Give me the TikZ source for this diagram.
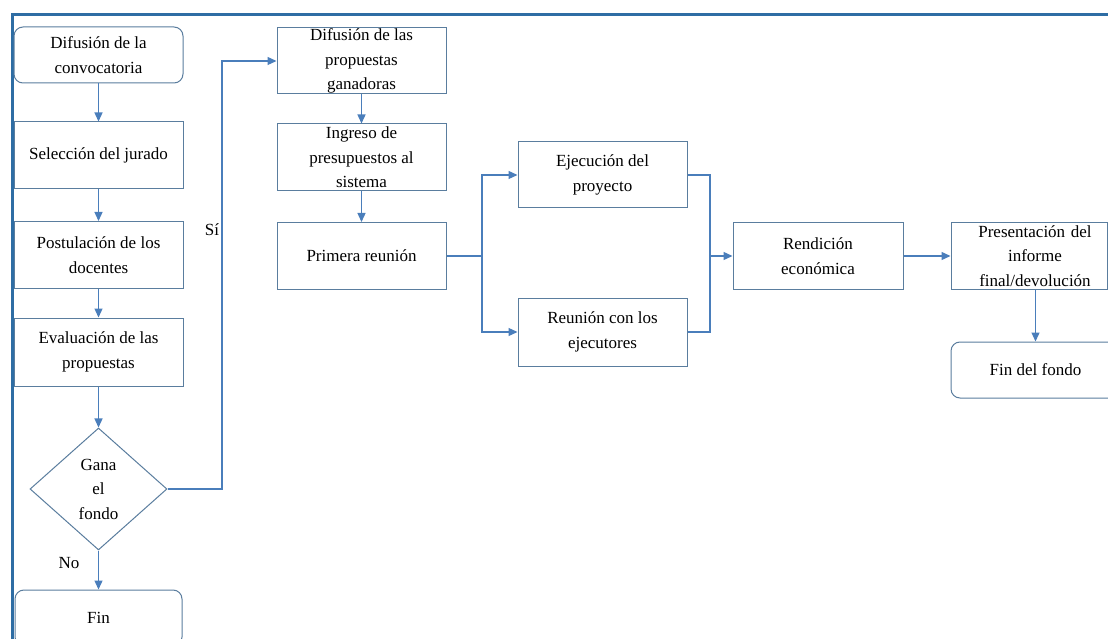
\documentclass[tikz,border=0pt]{standalone}
\usepackage{fontspec}
\setmainfont{Liberation Serif}
\usetikzlibrary{shapes.geometric, arrows.meta}

\definecolor{framecol}{HTML}{2E6DA4}
\definecolor{boxcol}{HTML}{5A7D9E}
\definecolor{linecol}{HTML}{4A7EBB}

\begin{document}
\begin{tikzpicture}[x=1pt,y=-1pt,->,>={Triangle[length=9pt,width=8pt]},
                    every edge/.style={draw=linecol,line width=1.3pt},
                    main node/.style={rectangle,draw=boxcol,line width=1pt,fill=white,align=center,
                                      minimum width=169pt,minimum height=67pt,inner sep=0pt,
                                      font=\fontsize{17}{24.5}\selectfont},
                    round node/.style={main node,rounded corners=9pt},
                    test node/.style={main node,diamond,minimum width=137pt,minimum height=122pt},
                    lbl/.style={font=\fontsize{17}{24.5}\selectfont}]

  \useasboundingbox (0,0) rectangle (1108,639);
  \clip (0,0) rectangle (1108,639);
  \draw[-,framecol,line width=3pt] (12.5,14.5) rectangle (1130,670);

  % left column
  \node[round node, minimum height=56pt] (1) at (98.5,55) {Difusión de la\\convocatoria};
  \node[main node] (2) at (98.5,155.5) {Selección del jurado};
  \node[main node] (3) at (98.5,255) {Postulación de los\\docentes};
  \node[main node, minimum height=68pt] (4) at (98.5,352) {Evaluación de las\\propuestas};
  \node[test node] (5) at (98.5,489) {Gana\\el\\fondo};
  \node[round node, minimum width=167pt, minimum height=56pt] (6) at (98.5,618) {Fin};

  % second column
  \node[main node, minimum height=66pt] (7) at (361.5,61) {Difusión de las\\propuestas\\ganadoras};
  \node[main node] (8) at (361.5,157.5) {Ingreso de\\presupuestos al\\sistema};
  \node[main node] (9) at (361.5,256) {Primera reunión};

  \node[main node, minimum height=66pt] (10) at (602.5,175) {Ejecución del\\proyecto};
  \node[main node, minimum height=68pt] (11) at (602.5,332) {Reunión con los\\ejecutores};
  \node[main node, minimum width=170pt, minimum height=66pt] (12) at (818,256) {Rendición\\económica};
  \node[main node, minimum width=156pt, minimum height=66pt, text width=156pt] (13) at (1029,256)
       {\hspace*{12pt}Presentación del\\\hspace*{12pt}informe\\\hspace*{12pt}final/devolución};
  \node[round node, minimum height=56pt] (14) at (1035.5,370) {Fin del fondo};

  \node[lbl] (no) at (69,563) {No};
  \node[lbl] (si) at (212,230) {Sí};

  \coordinate (s) at (222,489);
  \coordinate (b) at (482,256);
  \coordinate (m) at (710,256);

   \path
     (1) edge (2)
     (2) edge (3)
     (3) edge (4)
     (4) edge (5)
     (5) edge (6)
     (7) edge (8)
     (8) edge (9)
     (12) edge (13)
     (13.south -| 14.north) edge (14.north);

  \draw[linecol,line width=1.3pt] (5.east) -- (s) |- (7.west);
  \draw[-,linecol,line width=1.3pt] (9.east) -- (b);
  \draw[linecol,line width=1.3pt] (b) |- (10.west);
  \draw[linecol,line width=1.3pt] (b) |- (11.west);
  \draw[-,linecol,line width=1.3pt] (10.east) -| (m);
  \draw[-,linecol,line width=1.3pt] (11.east) -| (m);
  \draw[linecol,line width=1.3pt] (m) -- (12.west);
\end{tikzpicture}
\end{document}
